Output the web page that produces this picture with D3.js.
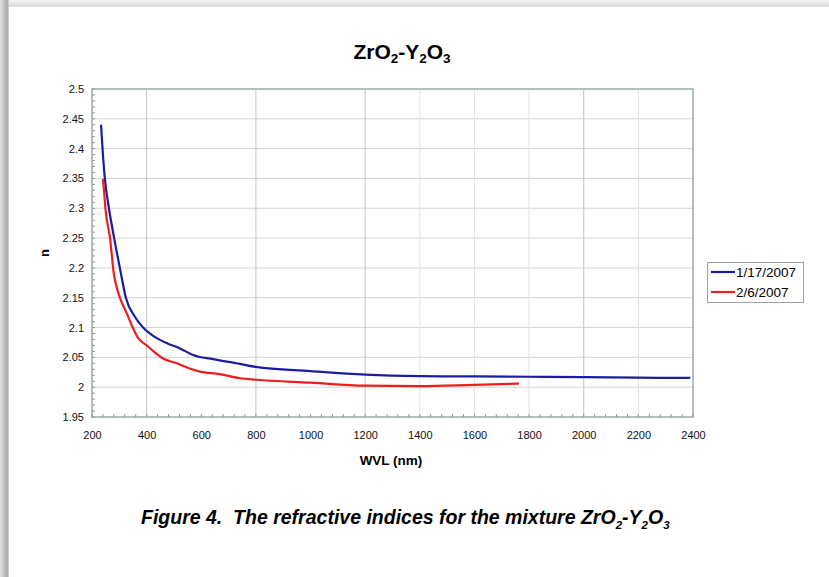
<!DOCTYPE html>
<html>
<head>
<meta charset="utf-8">
<script src="https://cdn.jsdelivr.net/npm/d3@7"></script>
<style>
  body { margin: 0; background: #fff; }
  text { font-family: "Liberation Sans", Arial, sans-serif; }
</style>
</head>
<body>
<div id="chart"></div>
<script>
// Wavelength (nm) and refractive index
const blueWl = [233, 240, 247, 262, 281, 302, 324, 357, 387, 431, 478, 522, 570, 643, 742, 800, 1000, 1200, 1400, 1600, 1800, 2000, 2200, 2390];
const blueN = [2.44, 2.39, 2.35, 2.30, 2.25, 2.20, 2.15, 2.118, 2.10, 2.084, 2.073, 2.065, 2.054, 2.047, 2.039, 2.034, 2.027, 2.021, 2.0185, 2.018, 2.0175, 2.017, 2.016, 2.0155];

const redWl = [240, 244, 249, 266, 280, 295, 302, 328, 349, 368, 400, 431, 460, 510, 548, 595, 668, 742, 800, 1000, 1200, 1400, 1600, 1763];
const redN = [2.349, 2.33, 2.30, 2.25, 2.19, 2.16, 2.15, 2.123, 2.10, 2.083, 2.070, 2.058, 2.048, 2.04, 2.033, 2.026, 2.022, 2.015, 2.0125, 2.0075, 2.0025, 2.0017, 2.004, 2.006];

const seriesNames = ["1/17/2007", "2/6/2007"];
const seriesColors = ["#1c1ca0", "#ee1c1c"];

const xTicks = [200, 400, 600, 800, 1000, 1200, 1400, 1600, 1800, 2000, 2200, 2400];
const yTicks = [1.95, 2, 2.05, 2.1, 2.15, 2.2, 2.25, 2.3, 2.35, 2.4, 2.45, 2.5];
// vertical gridlines that show in the picture
const xGrid = [400, 800, 1200, 1400, 1600, 1800, 2000, 2200];

// Setup
const width = 829;
const height = 577;
const plot = {left: 92, right: 693, top: 89, bottom: 417};

const svg = d3.select("#chart")
    .append("svg")
    .attr("width", width)
    .attr("height", height);

// page shadow on top and left
const defs = svg.append("defs");
const gl = defs.append("linearGradient").attr("id", "shadowLeft");
gl.append("stop").attr("offset", "0%").attr("stop-color", "#e4e4e4");
gl.append("stop").attr("offset", "80%").attr("stop-color", "#a8a8a8");
gl.append("stop").attr("offset", "100%").attr("stop-color", "#d8d8d8");
const gt = defs.append("linearGradient").attr("id", "shadowTop")
    .attr("x1", 0).attr("x2", 0).attr("y1", 0).attr("y2", 1);
gt.append("stop").attr("offset", "0%").attr("stop-color", "#f4f4f4");
gt.append("stop").attr("offset", "100%").attr("stop-color", "#d9d9d9");

svg.append("rect").attr("x", 0).attr("y", 0).attr("width", width).attr("height", 7)
    .attr("fill", "url(#shadowTop)");
svg.append("rect").attr("x", 0).attr("y", 0).attr("width", 9).attr("height", height)
    .attr("fill", "url(#shadowLeft)");

const x = d3.scaleLinear().domain([200, 2400]).range([plot.left, plot.right]);
const y = d3.scaleLinear().domain([1.95, 2.5]).range([plot.bottom, plot.top]);

// Gridlines
const grid = svg.append("g");
grid.selectAll(".hgrid")
  .data(yTicks.slice(1, -1))
  .enter().append("line")
    .attr("x1", plot.left).attr("x2", plot.right)
    .attr("y1", d => y(d)).attr("y2", d => y(d))
    .attr("stroke", "#d4d4d4").attr("stroke-width", 1);
grid.selectAll(".vgrid")
  .data(xGrid)
  .enter().append("line")
    .attr("x1", d => x(d)).attr("x2", d => x(d))
    .attr("y1", plot.top).attr("y2", plot.bottom)
    .attr("stroke", d => [400, 800, 1200, 2000].includes(d) ? "#c4c4c4" : "#e0e0e0")
    .attr("stroke-width", 1);

// Plot border
svg.append("rect")
    .attr("x", plot.left).attr("y", plot.top)
    .attr("width", plot.right - plot.left).attr("height", plot.bottom - plot.top)
    .attr("fill", "none").attr("stroke", "#9aaaa6").attr("stroke-width", 1.5);

// Axes
const xAxis = svg.append("g")
    .attr("transform", `translate(0,${plot.bottom})`)
    .call(d3.axisBottom(x).tickValues(xTicks).tickSize(0).tickPadding(14).tickFormat(d3.format("d")));
const yAxis = svg.append("g")
    .attr("transform", `translate(${plot.left},0)`)
    .call(d3.axisLeft(y).tickValues(yTicks).tickSize(0).tickPadding(8).tickFormat(d => d3.format("")(+d.toFixed(2))));
[xAxis, yAxis].forEach(a => {
  a.select(".domain").remove();
  a.selectAll("text").attr("font-size", 11).attr("fill", "#111");
});

// minor ticks drawn inward
svg.append("g").selectAll("line")
  .data(d3.range(200, 2401, 40))
  .enter().append("line")
    .attr("x1", d => x(d)).attr("x2", d => x(d))
    .attr("y1", plot.bottom).attr("y2", plot.bottom - 3)
    .attr("stroke", "#8a9894");
svg.append("g").selectAll("line")
  .data(d3.range(0, 56).map(i => 1.95 + i * 0.01))
  .enter().append("line")
    .attr("x1", plot.left).attr("x2", plot.left + 3)
    .attr("y1", d => y(d)).attr("y2", d => y(d))
    .attr("stroke", "#8a9894");

// Curves
const line = d3.line()
    .x(d => x(d[0]))
    .y(d => y(d[1]))
    .curve(d3.curveMonotoneX);

const series = [
  d3.zip(blueWl, blueN),
  d3.zip(redWl, redN)
];

svg.append("g").selectAll("path")
  .data(series)
  .enter().append("path")
    .attr("d", line)
    .attr("fill", "none")
    .attr("stroke", (d, i) => seriesColors[i])
    .attr("stroke-width", 2.2);

// subscripted formula text
function formula(sel, parts, big, small, shift) {
  parts.forEach((p, i) => {
    sel.append("tspan")
        .attr("font-size", p[1] ? small : big)
        .attr("dy", p[1] ? shift : (i ? -shift : 0))
        .text(p[0]);
  });
}

// Title
const title = svg.append("text")
    .attr("x", 402).attr("y", 59)
    .attr("text-anchor", "middle")
    .attr("font-weight", "bold");
formula(title, [["ZrO", 0], ["2", 1], ["-Y", 0], ["2", 1], ["O", 0], ["3", 1]], 21, 13.5, 4);

// Axis titles
svg.append("text")
    .attr("x", 391).attr("y", 465)
    .attr("text-anchor", "middle")
    .attr("font-size", 13.5).attr("font-weight", "bold")
    .text("WVL (nm)");
svg.append("text")
    .attr("transform", "translate(49,253) rotate(-90)")
    .attr("text-anchor", "middle")
    .attr("font-size", 13).attr("font-weight", "bold")
    .text("n");

// Legend
const legend = svg.append("g");
legend.append("rect")
    .attr("x", 707.5).attr("y", 262.5).attr("width", 96).attr("height", 40)
    .attr("fill", "#fff").attr("stroke", "#a0a0a0");
seriesNames.forEach((name, i) => {
  const ly = 272 + i * 20;
  legend.append("line")
      .attr("x1", 711).attr("x2", 735).attr("y1", ly).attr("y2", ly)
      .attr("stroke", seriesColors[i]).attr("stroke-width", 2.2);
  legend.append("text")
      .attr("x", 736).attr("y", ly + 4.5)
      .attr("font-size", 13.5)
      .text(name);
});

// Caption
const cap = svg.append("text")
    .attr("x", 141).attr("y", 524)
    .attr("font-weight", "bold").attr("font-style", "italic")
    .attr("xml:space", "preserve");
formula(cap, [["Figure 4.  The refractive indices for the mixture ZrO", 0], ["2", 1], ["-Y", 0], ["2", 1], ["O", 0], ["3", 1]], 19.5, 11.5, 5);
</script>
</body>
</html>
